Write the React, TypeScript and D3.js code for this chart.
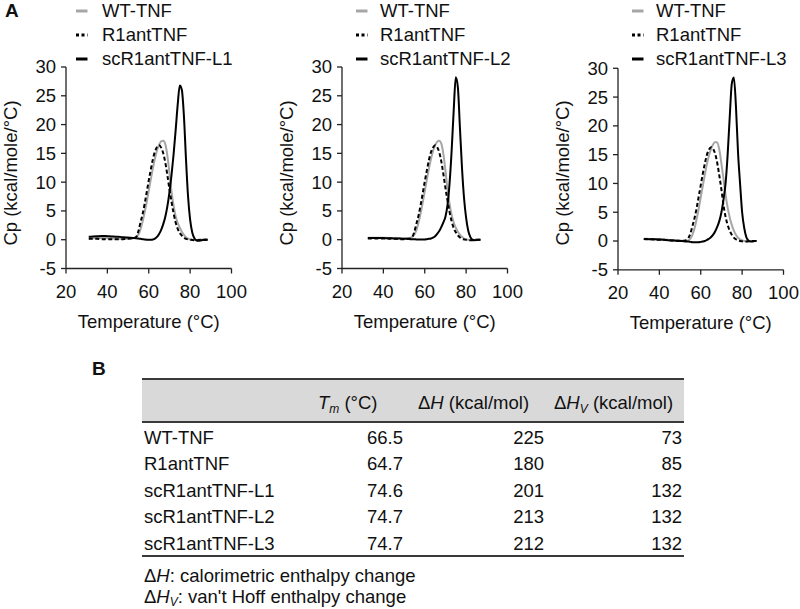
import React from "react";
import * as d3 from "d3";

const FONT = "'Liberation Sans', Arial, Helvetica, sans-serif";
const FS = 18.5;

// ---------- Panel A data (Temperature °C, Cp kcal/mole/°C) ----------
const temps1 = [31, 33, 35, 37, 39, 41, 43, 45, 47, 49,
  51, 52, 53, 54, 55, 56, 57, 58, 59, 60,
  61, 62, 63, 64, 65, 66, 67, 68, 69, 70,
  71, 72, 73, 74, 75, 76, 77, 78, 79, 80,
  81, 82, 83, 84, 85, 86, 87, 88.5];

const temps23 = [32.5, 34, 36, 38, 40, 42, 44, 46, 48, 50,
  52, 53, 54, 55, 56, 57, 58, 59, 60, 61,
  62, 63, 64, 65, 66, 67, 68, 69, 70, 71,
  72, 73, 74, 75, 76, 77, 78, 79, 80, 81,
  82, 83, 84, 85, 86, 87];

// Panel 1
const wtP1 = [0.2, 0.25, 0.3, 0.3, 0.3, 0.25, 0.2, 0.15, 0.15, 0.15,
  0.15, 0.2, 0.3, 0.5, 0.9, 1.8, 3.1, 4.7, 6.5, 8.5,
  10.5, 12.4, 14.1, 15.5, 16.5, 17.1, 17.2, 16.6, 14.6, 11.6,
  8.4, 5.9, 4.1, 2.9, 2.1, 1.4, 0.85, 0.45, 0.2, 0.05,
  0.0, -0.05, -0.05, 0.0, 0.0, 0.0, 0.0, 0.0];
const r1antP1 = [0.15, 0.15, 0.15, 0.1, 0.1, 0.1, 0.1, 0.1, 0.1, 0.15,
  0.2, 0.25, 0.3, 0.5, 1.5, 3.0, 4.4, 6.2, 8.2, 10.3,
  12.2, 14.0, 15.3, 16.1, 16.4, 16.0, 15.0, 13.4, 11.2, 8.8,
  6.6, 4.6, 3.0, 1.9, 1.2, 0.7, 0.35, 0.15, 0.05, 0.0,
  -0.05, -0.1, -0.1, -0.05, 0.0, 0.0, 0.0, 0.0];
const scP1 = [0.5, 0.55, 0.6, 0.65, 0.65, 0.6, 0.55, 0.5, 0.45, 0.4,
  0.35, 0.3, 0.3, 0.25, 0.2, 0.15, 0.1, 0.05, 0.0, 0.0,
  0.0, 0.05, 0.2, 0.5, 1.0, 1.7, 2.7, 4.0, 5.8, 8.2,
  11.2, 14.8, 19.0, 23.5, 26.8, 26.0, 21.5, 14.0, 7.5, 3.5,
  1.3, 0.3, -0.1, -0.2, -0.15, -0.05, 0.0, 0.0];

// Panel 2
const wtP2 = [0.35, 0.35, 0.35, 0.35, 0.35, 0.3, 0.3, 0.25, 0.25, 0.2,
  0.2, 0.3, 0.5, 0.9, 1.7, 3.0, 4.6, 6.4, 8.4, 10.4,
  12.3, 14.0, 15.4, 16.4, 17.0, 17.2, 16.7, 14.9, 12.0, 8.8,
  6.2, 4.3, 3.0, 2.1, 1.4, 0.9, 0.5, 0.2, 0.05, 0.0,
  -0.05, -0.05, 0.0, 0.0, 0.0, 0.0];
const r1antP2 = [0.2, 0.2, 0.2, 0.2, 0.2, 0.2, 0.15, 0.15, 0.1, 0.1,
  0.15, 0.25, 0.5, 1.4, 2.8, 4.2, 6.0, 8.0, 10.1, 12.0,
  13.8, 15.2, 16.0, 16.4, 16.1, 15.2, 13.6, 11.4, 9.0, 6.8,
  4.8, 3.2, 2.0, 1.3, 0.75, 0.4, 0.15, 0.05, 0.0, -0.05,
  -0.1, -0.1, -0.05, 0.0, 0.0, 0.0];
const scP2 = [0.3, 0.3, 0.3, 0.3, 0.3, 0.25, 0.25, 0.2, 0.2, 0.15,
  0.15, 0.1, 0.1, 0.1, 0.05, 0.05, 0.05, 0.05, 0.05, 0.1,
  0.15, 0.2, 0.35, 0.6, 1.0, 1.5, 2.2, 3.0, 4.0, 6.0,
  9.8, 15.5, 22.5, 28.2, 26.5, 19.5, 12.5, 7.2, 3.8, 1.6,
  0.5, 0.0, -0.1, -0.05, 0.0, 0.0];

// Panel 3
const wtP3 = [0.4, 0.4, 0.35, 0.3, 0.3, 0.25, 0.2, 0.15, 0.1, 0.05,
  0.0, 0.0, 0.1, 0.4, 1.1, 2.2, 3.8, 5.6, 7.6, 9.6,
  11.6, 13.4, 14.9, 16.0, 16.8, 17.2, 17.1, 15.8, 13.4, 10.8,
  8.0, 5.8, 4.1, 2.8, 1.8, 1.1, 0.6, 0.3, 0.1, 0.0,
  -0.05, -0.05, 0.0, 0.0, 0.0, 0.0];
const r1antP3 = [0.35, 0.3, 0.3, 0.25, 0.2, 0.2, 0.15, 0.1, 0.05, 0.05,
  0.05, 0.15, 0.5, 1.3, 2.6, 4.0, 5.7, 7.7, 9.7, 11.7,
  13.5, 15.0, 15.9, 16.3, 16.0, 15.1, 13.5, 11.3, 8.9, 6.2,
  4.2, 2.8, 1.8, 1.1, 0.6, 0.3, 0.1, 0.0, -0.05, -0.1,
  -0.1, -0.05, 0.0, 0.0, 0.0, 0.0];
const scP3 = [0.35, 0.35, 0.3, 0.3, 0.25, 0.2, 0.15, 0.1, 0.05, 0.0,
  -0.05, -0.1, -0.1, -0.15, -0.2, -0.2, -0.2, -0.2, -0.15, -0.1,
  0.0, 0.2, 0.4, 0.7, 1.1, 1.7, 2.5, 3.5, 5.0, 7.2,
  10.0, 15.0, 21.5, 27.3, 28.4, 23.5, 15.5, 10.0, 5.0, 2.3,
  0.7, 0.1, -0.1, -0.1, 0.0, 0.0];

const legendNames = ["WT-TNF", "R1antTNF"];
const scNames = ["scR1antTNF-L1", "scR1antTNF-L2", "scR1antTNF-L3"];
const xTicks = [20, 40, 60, 80, 100];
const yTicks = [-5, 0, 5, 10, 15, 20, 25, 30];
const xDomain = [20, 100];
const yDomain = [-5, 30];

// ---------- Panel B table data ----------
const rowLabels = ["WT-TNF", "R1antTNF", "scR1antTNF-L1", "scR1antTNF-L2", "scR1antTNF-L3"];
const tmValues = [66.5, 64.7, 74.6, 74.7, 74.7];
const dhValues = [225, 180, 201, 213, 212];
const dhvValues = [73, 85, 132, 132, 132];

// ---------- layout ----------
const panelLeft = [66, 342, 618];
const panelTop = [67, 67, 68.3];
const plotW = 165.5;
const plotH = 201.5;
const legLineOff = [10, 14, 14];
const legTextOff = [36, 38, 38];

const GRAY = "#a6a6a6";

type Panel = { temps: number[]; wt: number[]; r1: number[]; sc: number[]; name: string };

const panels: Panel[] = [
  { temps: temps1, wt: wtP1, r1: r1antP1, sc: scP1, name: scNames[0] },
  { temps: temps23, wt: wtP2, r1: r1antP2, sc: scP2, name: scNames[1] },
  { temps: temps23, wt: wtP3, r1: r1antP3, sc: scP3, name: scNames[2] },
];

function DscPanel({ p, i }: { p: Panel; i: number }) {
  const x0 = panelLeft[i];
  const y0 = panelTop[i];
  const x = d3.scaleLinear().domain(xDomain).range([x0, x0 + plotW]);
  const y = d3.scaleLinear().domain(yDomain).range([y0 + plotH, y0]);
  const mk = (vals: number[]) =>
    d3
      .line<number>()
      .x((_, k) => x(p.temps[k]))
      .y((v) => y(v))
      .curve(d3.curveMonotoneX)(vals) || "";
  const yb = y(-5);
  const legBase = [17, 41, 65];
  const legStyles = [
    { stroke: GRAY, dash: undefined as string | undefined },
    { stroke: "#000", dash: "3,2.5" },
    { stroke: "#000", dash: undefined },
  ];
  const legLabels = [legendNames[0], legendNames[1], p.name];
  return (
    <g>
      {legLabels.map((lab, k) => (
        <g key={lab}>
          <line
            x1={x0 + legLineOff[i]}
            x2={x0 + legLineOff[i] + 11.5}
            y1={legBase[k] - 6}
            y2={legBase[k] - 6}
            stroke={legStyles[k].stroke}
            strokeWidth={3}
            strokeDasharray={legStyles[k].dash}
          />
          <text x={x0 + legTextOff[i]} y={legBase[k]} fontSize={FS} fill="#111">
            {lab}
          </text>
        </g>
      ))}
      <line x1={x0} x2={x0} y1={y0} y2={yb} stroke="#222" strokeWidth={1.3} />
      <line x1={x0} x2={x0 + plotW} y1={yb} y2={yb} stroke="#222" strokeWidth={1.3} />
      {yTicks.map((t) => (
        <g key={"y" + t}>
          <line x1={x0 - 5} x2={x0} y1={y(t)} y2={y(t)} stroke="#222" strokeWidth={1.3} />
          <text x={x0 - 10} y={y(t)} dy="0.35em" textAnchor="end" fontSize={FS} fill="#111">
            {t}
          </text>
        </g>
      ))}
      {xTicks.map((t) => (
        <g key={"x" + t}>
          <line x1={x(t)} x2={x(t)} y1={yb} y2={yb + 5} stroke="#222" strokeWidth={1.3} />
          <text x={x(t)} y={yb + 29} textAnchor="middle" fontSize={FS} fill="#111">
            {t}
          </text>
        </g>
      ))}
      <text x={x0 + plotW / 2} y={yb + 59} textAnchor="middle" fontSize={FS} fill="#111">
        Temperature (°C)
      </text>
      <text
        transform={`translate(${x0 - 49.5},${173}) rotate(-90)`}
        textAnchor="middle"
        fontSize={FS}
        fill="#111"
      >
        Cp (kcal/mole/°C)
      </text>
      <path d={mk(p.wt)} fill="none" stroke={GRAY} strokeWidth={2} />
      <path d={mk(p.r1)} fill="none" stroke="#000" strokeWidth={2} strokeDasharray="4,2.5" />
      <path d={mk(p.sc)} fill="none" stroke="#000" strokeWidth={2} />
    </g>
  );
}

function Table() {
  const left = 142;
  const right = 684;
  const top = 379;
  const headBottom = 422;
  const rowY = d3.scaleLinear().domain([0, 4]).range([443.5, 550]);
  const bottom = 556;
  const labX = 144;
  const colRight = [403, 544, 682];
  return (
    <g fontSize={FS} fill="#111">
      <text x={92} y={375} fontSize={19} fontWeight="bold">B</text>
      <rect x={left} y={top} width={right - left} height={headBottom - top} fill="#d9d9d9" />
      <line x1={left} x2={right} y1={top} y2={top} stroke="#3a3a3a" strokeWidth={2} />
      <line x1={left} x2={right} y1={headBottom} y2={headBottom} stroke="#3a3a3a" strokeWidth={2} />
      <line x1={left} x2={right} y1={bottom} y2={bottom} stroke="#3a3a3a" strokeWidth={2} />
      <text x={318} y={409}>
        <tspan fontStyle="italic">T</tspan>
        <tspan fontStyle="italic" fontSize={12} dy={4}>m</tspan>
        <tspan dy={-4}> (°C)</tspan>
      </text>
      <text x={418} y={409}>
        Δ<tspan fontStyle="italic">H</tspan> (kcal/mol)
      </text>
      <text x={554} y={409}>
        Δ<tspan fontStyle="italic">H</tspan>
        <tspan fontStyle="italic" fontSize={12} dy={4}>V</tspan>
        <tspan dy={-4}> (kcal/mol)</tspan>
      </text>
      {rowLabels.map((lab, k) => (
        <g key={lab}>
          <text x={labX} y={rowY(k)}>{lab}</text>
          <text x={colRight[0]} y={rowY(k)} textAnchor="end">{tmValues[k].toFixed(1)}</text>
          <text x={colRight[1]} y={rowY(k)} textAnchor="end">{dhValues[k]}</text>
          <text x={colRight[2]} y={rowY(k)} textAnchor="end">{dhvValues[k]}</text>
        </g>
      ))}
      <text x={labX} y={581.5}>
        Δ<tspan fontStyle="italic">H</tspan>: calorimetric enthalpy change
      </text>
      <text x={labX} y={602.5}>
        Δ<tspan fontStyle="italic">H</tspan>
        <tspan fontStyle="italic" fontSize={12} dy={3}>V</tspan>
        <tspan dy={-3}>: van't Hoff enthalpy change</tspan>
      </text>
    </g>
  );
}

export default function App() {
  return (
    <svg
      width={800}
      height={609}
      viewBox="0 0 800 609"
      style={{ position: "absolute", left: 0, top: 0, background: "#fff" }}
      fontFamily={FONT}
    >
      <rect x={0} y={0} width={800} height={609} fill="#fff" />
      <text x={5} y={17} fontSize={19} fontWeight="bold" fill="#111">A</text>
      {panels.map((p, i) => (
        <DscPanel key={i} p={p} i={i} />
      ))}
      <Table />
    </svg>
  );
}
